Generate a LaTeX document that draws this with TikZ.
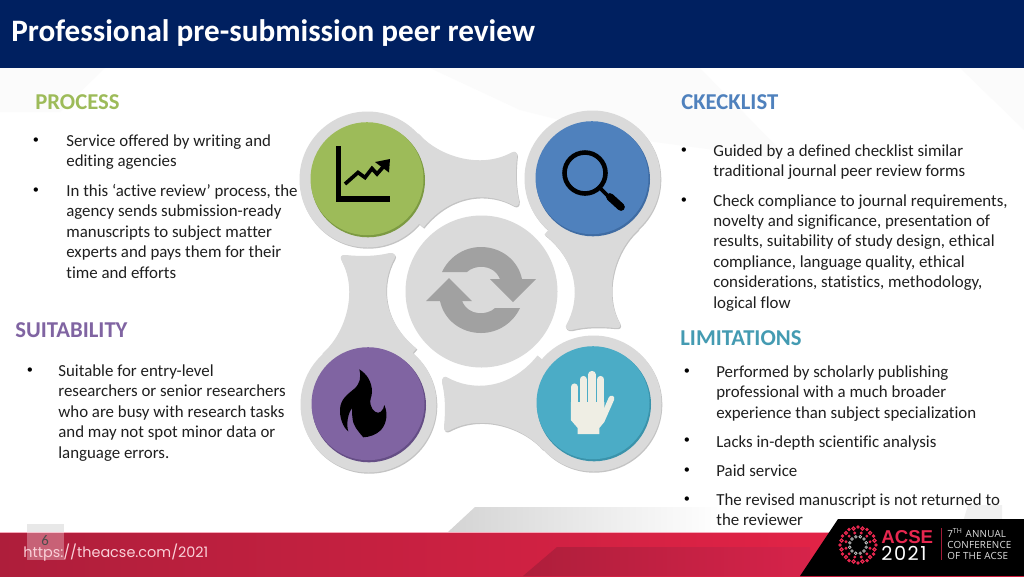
\documentclass[tikz,border=0pt]{standalone}
\usepackage{fontspec}
\setmainfont{Carlito}[Ligatures={NoCommon}]
\newfontfamily\urlfont{Poppins}
\newfontfamily\logofont{Open Sans}
\newfontfamily\acsefont{Liberation Sans}
\usepackage{xcolor}
\usetikzlibrary{calc}
\definecolor{navy}{HTML}{002060}
\definecolor{grn}{HTML}{9DBB59}
\definecolor{grnd}{HTML}{7C9A42}
\definecolor{blu}{HTML}{4F81BD}
\definecolor{blud}{HTML}{3F6CA3}
\definecolor{pur}{HTML}{8064A2}
\definecolor{purd}{HTML}{654E85}
\definecolor{tea}{HTML}{4BACC6}
\definecolor{tead}{HTML}{3A93AB}
\definecolor{petal}{HTML}{DADADA}
\definecolor{petald}{HTML}{C4C4C4}
\definecolor{acsered}{HTML}{E8274F}
\definecolor{footl}{HTML}{AE1E3B}
\definecolor{footm}{HTML}{D6234A}
\definecolor{footr}{HTML}{EE2449}
\definecolor{cream}{HTML}{EFEEE4}
\tikzset{
  body/.style={anchor=north west,inner sep=0pt,align=left,text=black!88,font=\fontsize{9.6}{11.62}\selectfont},
  dot/.style={anchor=center,inner sep=0pt,text=black,font=\fontsize{7}{9}\selectfont},
  head/.style={anchor=west,inner sep=0pt,font=\fontsize{12.9}{15}\selectfont\bfseries},
  faint/.style={fill=black!1.5,draw=none},
  logoline/.style={anchor=west,inner sep=0pt,text=black!12,font=\logofont\fontsize{5.6}{7}\selectfont\addfontfeature{LetterSpace=2}},
}
\begin{document}
\begin{tikzpicture}[x=0.02cm,y=-0.02cm]
\useasboundingbox (0,0) rectangle (1024,576);
\fill[white] (0,0) rectangle (1024,576);
%% pale background shapes
\fill[faint] (0,68) -- (105,68) -- (60,112) -- (0,112) -- cycle;
\fill[faint] (430,68) -- (700,68) -- (790,160) -- (640,140) -- (520,110) -- cycle;
\fill[faint] (960,68) -- (1024,68) -- (1024,130) -- cycle;
\fill[black!6] (960,532) -- (968,505) -- (1002,505) -- (1002,532) -- cycle;
\shade[left color=black!17,right color=white] (448,532) -- (475,507) -- (720,507) -- (720,532) -- cycle;
%% header and footer
\fill[navy] (0,0) rectangle (1024,68);
\shade[left color=footl,middle color=footm,right color=footr] (0,532) rectangle (1024,576);
\draw[acsered!40,line width=0.4pt] (0,532) -- (1024,532);
\shade[left color=footl,right color=footm] (523,576) -- (557,547) -- (810,547) -- (810,576) -- cycle;
\fill[black] (800,576) -- (838,519) -- (1024,519) -- (1024,576) -- cycle;
\node[anchor=west,inner sep=0pt,text=white,font=\fontsize{17.75}{20}\selectfont\bfseries] (title) at (11,33) {Professional pre-submission peer review};
%% four petals round the middle
\foreach \a/\c/\d in {0/grn/grnd, -90/blu/blud, 180/tea/tead, 90/pur/purd}
{
  \foreach \sx/\sy/\col in {0.8/1.2/petald, 0/0/petal}
  {
    \begin{scope}[shift={(480.5+\sx,291.5+\sy)},rotate=\a]
    \fill[\col] (-113,-112) circle (68);
    \fill[\col] (-62,-158) .. controls (-42,-135) and (0,-122) .. (31,-139)
       .. controls (35,-141) and (37,-139) .. (36.5,-135)
       .. controls (35,-120) and (35,-105) .. (38.5,-91)
       .. controls (39,-86) and (36,-84) .. (33,-86)
       .. controls (10,-99) and (-28,-100) .. (-57,-64) -- (-113,-112) -- cycle;
    \end{scope}
  }
  \begin{scope}[shift={(480.5,291.5)},rotate=\a]
  \coordinate (cc) at (-113,-112);
  \end{scope}
  \fill[\d] ($(cc)+(0.5,0.8)$) circle (57);
  \fill[\c] ($(cc)+(-0.5,-0.8)$) circle (56.5);
}
\fill[petal] (481.5,291.5) circle (76);
%% refresh arrows
\foreach \a in {0,180}
\fill[black!37,shift={(481,290)},rotate=\a] (-39,-18) -- (-14,-18) .. controls (-7,-25) and (12,-27) .. (19,-11)
   -- (9,-11) -- (32,12) -- (55,-11) -- (41,-11) .. controls (37,-30) and (20,-43) .. (0,-43)
   .. controls (-17,-43) and (-32,-33) .. (-39,-18) -- cycle;
%% chart
\draw[black,line width=2.9pt] (338.5,146) -- (338.5,199) -- (390,199);
\draw[black,line width=2.1pt] (345,184) -- (358,172.5) -- (365,177.5) -- (372,168.5) -- (377,174) -- (384,166);
\fill[black] (375,162) -- (390,159) -- (389,172.5) -- cycle;
%% magnifier
\draw[black,line width=2.6pt] (585,173) circle (20.5);
\draw[black,line width=2.2pt] (600,188) -- (608,196);
\draw[black,line width=4.4pt,line cap=round] (610,197) -- (621,207);
%% flame
\fill[black] (359.3,369.3) .. controls (367,374) and (372,382) .. (372,392)
   .. controls (372,397) and (369,400) .. (370.7,405) .. controls (372,411) and (378,415) .. (381,411.5)
   .. controls (383,410) and (384,407) .. (384.3,405) .. controls (388,413) and (387,423) .. (381,430)
   .. controls (376,435) and (369,437) .. (363.3,437.3) .. controls (358,431) and (353,426) .. (352.5,418)
   .. controls (352,414) and (352,411) .. (352,408.3) .. controls (348,413) and (346,424) .. (348.3,431.5)
   .. controls (343,427) and (339.5,418) .. (340,409) .. controls (340.5,399) and (348,394) .. (354,389)
   .. controls (360,384) and (361.5,377) .. (359.3,369.3) -- cycle;
%% hand
\foreach \hx/\hy in {574.5/387, 583.2/379.5, 592/374.5, 600.7/379.5}
  \draw[cream,line width=4.1pt,line cap=round] (\hx,\hy) -- (\hx,408);
\fill[cream] (570.8,402) -- (604.3,402) -- (604.3,422) -- (599.3,428) -- (599.3,434) -- (577.7,434) -- (577.7,428) -- (570.8,420) -- cycle;
\draw[cream,line width=3.3pt,line cap=round] (602,420) -- (611.5,398.5);
%% headings
\node[head,text=grn] (process) at (35,102.5) {PROCESS};
\node[head,text=blu] (checklist) at (681,102.5) {CKECKLIST};
\node[head,text=pur] (suitability) at (15,330.5) {SUITABILITY};
\node[head,text=tea!90!black] (limitations) at (680,338.5) {LIMITATIONS};
%% texts
\node[body] (processa) at (66,134.5) {Service offered by writing and\\editing agencies};
\node[body] (processb) at (66,184) {In this ‘active review’ process, the\\agency sends submission-ready\\manuscripts to subject matter\\experts and pays them for their\\time and efforts};
\node[body] (checka) at (713,144.5) {Guided by a defined checklist similar\\traditional journal peer review forms};
\node[body] (checkb) at (713,194) {Check compliance to journal requirements,\\novelty and significance, presentation of\\results, suitability of study design, ethical\\compliance, language quality, ethical\\considerations, statistics, methodology,\\logical flow};
\node[body] (suita) at (58,364.5) {Suitable for entry-level\\researchers or senior researchers\\who are busy with research tasks\\and may not spot minor data or\\language errors.};
\node[body] (limita) at (716,365.5) {Performed by scholarly publishing\\professional with a much broader\\experience than subject specialization};
\node[body] (limitb) at (716,435) {Lacks in-depth scientific analysis};
\node[body] (limitc) at (716,464) {Paid service};
\node[body] (limitd) at (716,493.5) {The revised manuscript is not returned to\\the reviewer};
\foreach \bx/\by/\bname in {36/141/ba, 36/190.5/bb, 684/151/bc, 684/200.5/bd, 30/371/be, 687/372/bf, 687/441/bg, 687/470.5/bh, 687/500/bi}
  \node[dot] (\bname) at (\bx,\by) {•};
%% footer texts
\fill[black!9] (27,524) rectangle (64,532);
\fill[white,opacity=0.3] (27,532) rectangle (64,560);
\node[inner sep=0pt,text=black!70,font=\fontsize{8.4}{10}\selectfont] (pagenum) at (45,541) {6};
\node[anchor=west,inner sep=0pt,text=white!78!acsered,font=\urlfont\fontsize{8.2}{10}\selectfont] (url) at (23,553) {https://theacse.com/2021};
%% logo
\foreach \a in {0,30,...,330}
{
  \fill[acsered] (858,545) ++(\a:18) circle (1.9);
  \fill[acsered] (858,545) ++(\a+15:12.5) circle (1.6);
  \draw[acsered,line width=0.7pt] (858,545) ++(\a+15:17) circle (1.6);
}
\foreach \a in {0,60,...,300}
{
  \fill[black!40] (858,545) ++(\a+15:8.5) circle (1.9);
  \draw[white!80!black,line width=0.4pt] (858,545) ++(\a+45:8.5) circle (1.4);
}
\node[anchor=west,inner sep=0pt,text=acsered,font=\acsefont\fontsize{10.6}{12}\selectfont\bfseries] (acse) at (881,537) {ACSE};
\node[anchor=west,inner sep=0pt,text=white,font=\urlfont\fontsize{11}{13}\selectfont\addfontfeature{LetterSpace=8}] (year) at (881,553.5) {2021};
\draw[acsered!70!black,line width=0.5pt] (941.5,528) -- (941.5,560);
\node[logoline] (annual) at (947,533) {7\textsuperscript{TH} ANNUAL};
\node[logoline] (conference) at (947,545) {CONFERENCE};
\node[logoline] (ofacse) at (947,556) {OF THE ACSE};
\end{tikzpicture}
\end{document}
